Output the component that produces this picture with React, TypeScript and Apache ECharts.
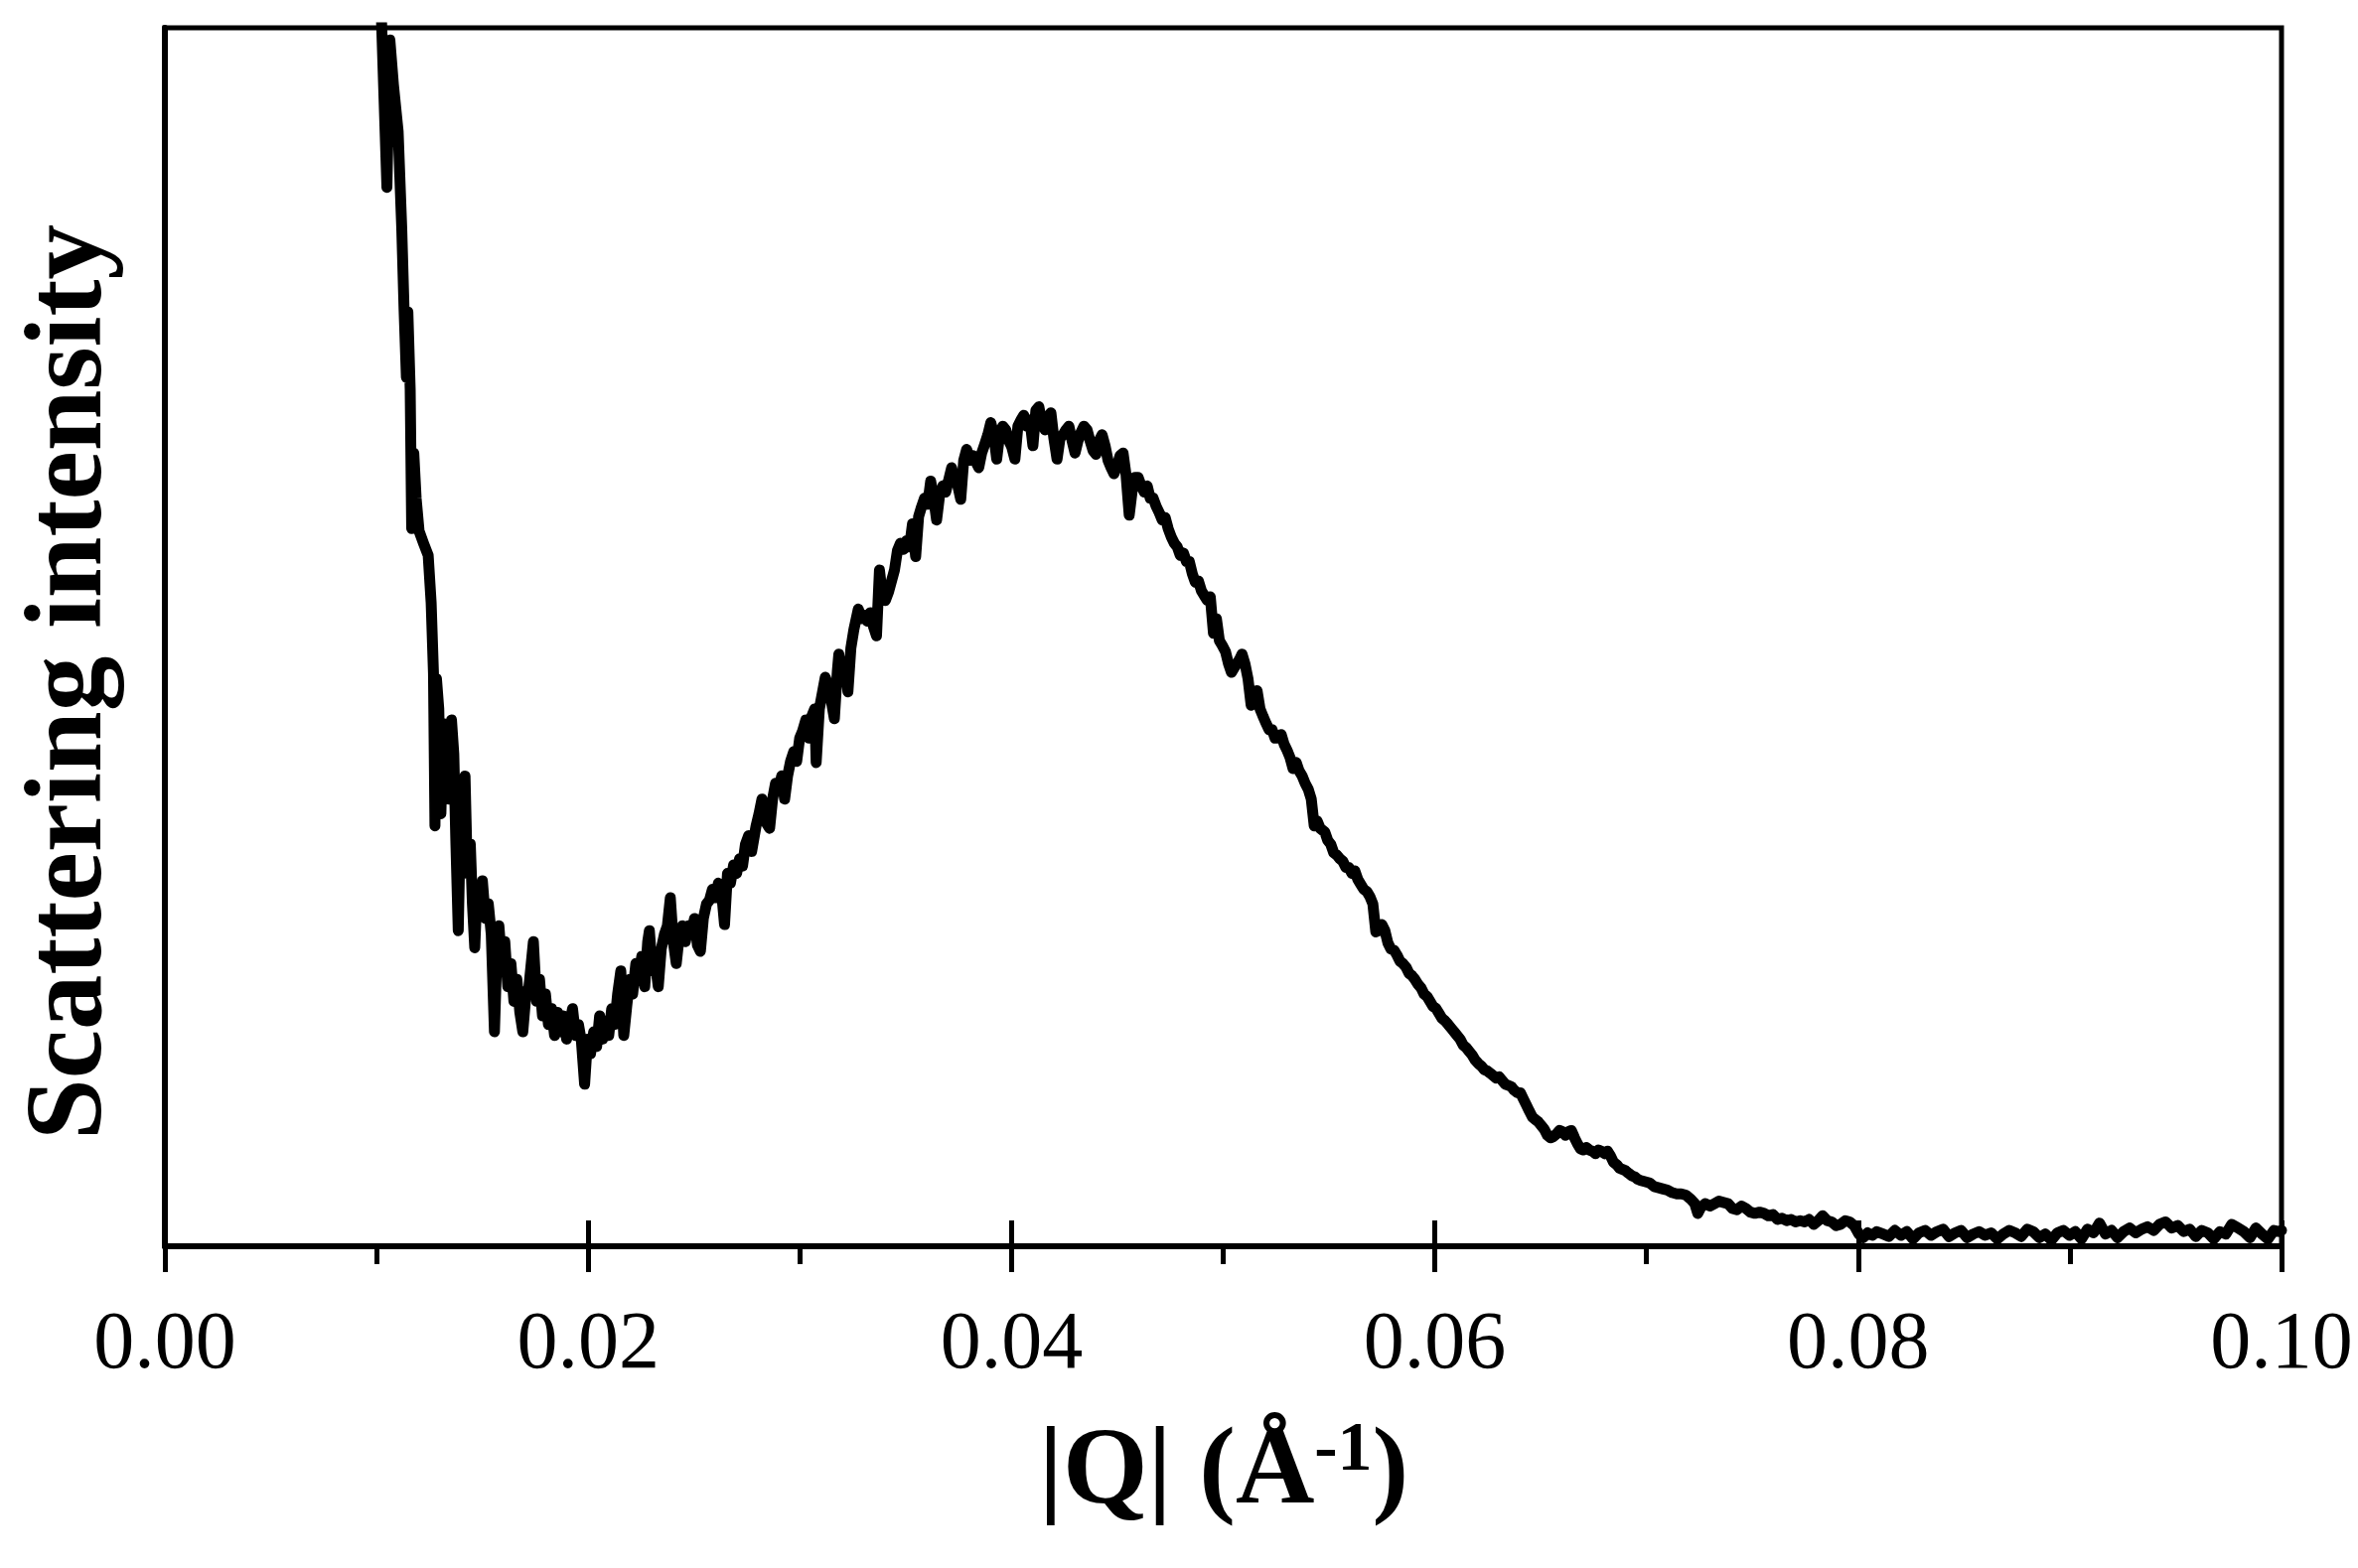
import React, { useEffect, useRef } from "react";
import * as echarts from "echarts";

// |Q| (1/Å) vs scattering intensity (arbitrary units, 0 = baseline, 100 = top of frame)
const lowQMinimum: [number, number][] = [
  [0.01016, 104.6], [0.01049, 86.9], [0.01063, 99.0], [0.0108, 95.3], [0.01102, 91.5],
  [0.01119, 83.6], [0.0113, 76.9], [0.01141, 71.3], [0.01148, 76.7], [0.01159, 70.3],
  [0.01166, 58.9], [0.01176, 65.1], [0.01187, 61.4], [0.01201, 58.7], [0.01222, 57.7],
  [0.01244, 56.7], [0.01258, 52.8], [0.01269, 47.0], [0.01276, 34.5], [0.01283, 46.6],
  [0.01294, 44.1], [0.01304, 35.5], [0.01315, 42.9], [0.01329, 39.2], [0.01343, 36.7],
  [0.01354, 43.2], [0.01365, 40.4], [0.01375, 33.0], [0.01386, 25.9], [0.01397, 35.5],
  [0.01407, 33.0], [0.01418, 38.6], [0.01429, 30.6], [0.01443, 33.0], [0.01453, 28.1],
  [0.01464, 24.5], [0.01475, 29.3], [0.01485, 28.1], [0.015, 30.0], [0.01514, 26.9],
  [0.01528, 28.1], [0.01542, 25.6], [0.01557, 17.6], [0.01567, 23.2], [0.01578, 26.3],
  [0.01592, 23.2], [0.01606, 25.0], [0.0162, 21.3], [0.01635, 23.2], [0.01649, 20.1],
  [0.01663, 21.9], [0.01677, 19.2], [0.01691, 17.6], [0.01706, 20.7], [0.0172, 21.3],
  [0.01741, 25.0], [0.01756, 20.1], [0.0177, 21.9], [0.01784, 18.9], [0.01798, 20.7],
  [0.01812, 18.2], [0.01827, 19.5], [0.01841, 17.3], [0.01855, 19.2], [0.01869, 17.6],
  [0.01883, 18.9], [0.01898, 17.0], [0.01912, 18.2], [0.01926, 19.5], [0.0194, 17.3],
  [0.01954, 18.2], [0.01968, 16.8], [0.01983, 13.3], [0.01997, 17.0], [0.02011, 15.8],
  [0.02026, 17.6], [0.0204, 16.4], [0.02054, 18.9],
];

const risingFlank: [number, number][] = [
  [0.02068, 17.0], [0.02082, 18.5], [0.02097, 17.3], [0.02111, 19.5], [0.02125, 18.2],
  [0.02139, 20.7], [0.02154, 22.6], [0.02168, 17.3], [0.02182, 19.7], [0.02196, 21.9],
  [0.0221, 20.7], [0.02225, 23.2], [0.02239, 21.9], [0.02253, 23.8], [0.02267, 21.3],
  [0.02281, 25.0], [0.02289, 25.9], [0.02303, 22.6], [0.02317, 23.2], [0.02331, 21.3],
  [0.02345, 24.4], [0.0236, 25.6], [0.02374, 26.3], [0.02388, 28.6], [0.02402, 25.0],
  [0.02416, 23.2], [0.02431, 25.6], [0.02445, 26.3], [0.02459, 25.0], [0.02473, 26.3],
  [0.02488, 25.6], [0.02502, 26.9], [0.02516, 24.7], [0.0253, 24.2], [0.02544, 26.9],
  [0.02559, 28.1], [0.02573, 28.4], [0.02587, 29.3], [0.02601, 28.6], [0.02615, 29.8],
  [0.0263, 29.1], [0.02644, 26.4], [0.02658, 30.6], [0.02672, 29.8], [0.02687, 31.3],
  [0.02701, 30.6], [0.02715, 31.8], [0.02729, 31.2], [0.02743, 33.0], [0.02758, 33.7],
  [0.02772, 32.4], [0.02793, 34.5], [0.02807, 35.5], [0.02821, 36.7], [0.02836, 34.9],
  [0.02857, 34.3], [0.02871, 36.7], [0.02885, 38.0], [0.02899, 37.4], [0.02914, 38.6],
  [0.02928, 36.7], [0.02942, 38.6], [0.02956, 39.8], [0.02971, 40.6], [0.02985, 39.8],
  [0.02999, 41.7], [0.03013, 42.3], [0.03028, 43.2], [0.03042, 41.7], [0.03056, 43.5],
  [0.0307, 44.1], [0.03077, 39.7], [0.03092, 44.1], [0.03106, 45.4], [0.0312, 46.7],
  [0.03134, 46.0], [0.03148, 44.8], [0.03163, 43.3], [0.03177, 47.2], [0.03184, 48.6],
  [0.03198, 47.2], [0.03212, 47.8], [0.03227, 45.5], [0.03241, 49.1], [0.03255, 50.6],
  [0.03276, 52.3], [0.0329, 51.5], [0.03305, 51.8], [0.03319, 51.3], [0.03333, 52.0],
  [0.03347, 50.9], [0.03362, 50.1], [0.03376, 55.5], [0.0339, 53.4], [0.03404, 53.0],
  [0.03419, 53.7], [0.03433, 54.6], [0.03447, 55.5], [0.03461, 57.1], [0.03475, 57.7],
  [0.0349, 57.2], [0.03504, 57.9], [0.03518, 57.4], [0.03532, 59.3], [0.03547, 56.6],
  [0.03561, 59.9], [0.03575, 60.7], [0.03589, 61.4], [0.03604, 60.9], [0.03618, 62.8],
  [0.03632, 61.4], [0.03646, 59.6], [0.0366, 61.6], [0.03675, 62.4], [0.03689, 61.9],
  [0.03703, 62.9], [0.03717, 63.9], [0.03731, 62.9], [0.03746, 62.4], [0.0376, 61.3],
  [0.03774, 64.5], [0.03788, 65.4], [0.03802, 64.5], [0.03817, 64.9], [0.03831, 64.4],
  [0.03845, 63.9], [0.03859, 65.1], [0.03873, 65.8], [0.03888, 66.6], [0.03902, 67.6],
  [0.03916, 66.6], [0.0393, 64.6], [0.03945, 66.8], [0.03959, 67.3], [0.03973, 67.0],
  [0.03987, 66.1],
];

const peakAndDecay: [number, number][] = [
  [0.04001, 65.6], [0.04016, 64.6], [0.0403, 67.3], [0.04044, 67.8], [0.04058, 68.2],
  [0.04072, 67.3], [0.04087, 67.8], [0.04101, 65.7], [0.04115, 68.6], [0.04129, 68.9],
  [0.04143, 67.6], [0.04158, 67.0], [0.04172, 68.1], [0.04186, 68.4], [0.042, 66.3],
  [0.04215, 64.6], [0.04229, 66.3], [0.04243, 66.6], [0.04257, 67.0], [0.04271, 67.3],
  [0.04286, 66.1], [0.043, 65.1], [0.04314, 66.1], [0.04328, 66.8], [0.04342, 67.3],
  [0.04357, 67.0], [0.04371, 66.1], [0.04385, 65.3], [0.04399, 65.0], [0.04413, 66.1],
  [0.04428, 66.6], [0.04442, 65.7], [0.04456, 64.5], [0.0447, 63.9], [0.04484, 63.4],
  [0.04499, 64.1], [0.04513, 64.9], [0.04527, 65.1], [0.04541, 63.3], [0.04556, 60.0],
  [0.0457, 62.0], [0.04584, 63.1], [0.04598, 63.1], [0.04613, 62.4], [0.04627, 61.9],
  [0.04641, 62.4], [0.04655, 61.4], [0.04669, 61.4], [0.04684, 60.7], [0.04698, 60.2],
  [0.04712, 59.6], [0.04726, 59.8], [0.0474, 58.9], [0.04755, 58.2], [0.04769, 57.7],
  [0.04783, 57.4], [0.04797, 56.7], [0.04812, 56.9], [0.04826, 56.2], [0.0484, 56.2],
  [0.04854, 55.2], [0.04868, 54.5], [0.04883, 54.6], [0.04897, 53.8], [0.04911, 53.4],
  [0.04925, 53.0], [0.04939, 53.3], [0.04954, 50.3], [0.04968, 51.5], [0.04982, 49.7],
  [0.04996, 49.3], [0.05011, 48.8], [0.05025, 47.8], [0.05039, 47.1], [0.05053, 47.5],
  [0.05075, 48.1], [0.05089, 48.6], [0.05103, 47.8], [0.05117, 46.6], [0.05132, 44.4],
  [0.05146, 45.1], [0.0516, 45.6], [0.05174, 44.1], [0.05188, 43.5], [0.05203, 42.9],
  [0.05217, 42.4], [0.05231, 42.4], [0.05245, 41.7], [0.05259, 41.7], [0.05274, 42.0],
  [0.05288, 41.2], [0.05302, 40.7], [0.05316, 40.1], [0.0533, 39.2], [0.05345, 39.7],
  [0.05359, 39.0], [0.05373, 38.6], [0.05387, 38.0], [0.05402, 37.5], [0.05416, 36.7],
  [0.0543, 34.5], [0.05444, 34.9], [0.05458, 34.3], [0.0548, 34.0], [0.05494, 33.3],
  [0.05508, 33.0], [0.05522, 32.3], [0.05537, 32.1], [0.05551, 31.8], [0.05565, 31.6],
  [0.05579, 31.1], [0.05593, 31.1], [0.05608, 30.6], [0.05622, 30.8], [0.05636, 30.1],
  [0.0565, 29.7], [0.05664, 29.3], [0.05679, 29.1], [0.05693, 28.7], [0.05707, 28.1],
  [0.05721, 25.8], [0.05736, 25.9], [0.0575, 26.4], [0.05764, 25.9], [0.05778, 24.9],
  [0.05792, 24.4], [0.05807, 24.3], [0.05821, 23.9], [0.05835, 23.4], [0.05849, 23.2],
  [0.05864, 22.9], [0.05878, 22.4], [0.05892, 22.2], [0.05906, 21.9], [0.0592, 21.5],
  [0.05935, 21.2], [0.05949, 20.7], [0.05963, 20.5], [0.05977, 20.1], [0.05991, 19.7],
  [0.06006, 19.5], [0.0602, 19.1], [0.06034, 18.7], [0.06048, 18.5], [0.06063, 18.2],
  [0.06077, 17.9], [0.06091, 17.6], [0.06105, 17.3], [0.06119, 17.0], [0.06134, 16.5],
  [0.06148, 16.3], [0.06162, 16.0], [0.06176, 15.7], [0.0619, 15.3], [0.06205, 15.0],
  [0.06219, 14.8], [0.06233, 14.5], [0.06247, 14.4], [0.06262, 14.2], [0.06276, 14.0],
  [0.0629, 13.8], [0.06304, 13.9], [0.06318, 13.6], [0.06333, 13.3], [0.06347, 13.2],
  [0.06361, 13.1], [0.06375, 12.8], [0.0639, 12.6], [0.06404, 12.6], [0.06418, 12.1],
  [0.06432, 11.6], [0.06446, 11.1], [0.06461, 10.6], [0.06475, 10.4], [0.06489, 10.2],
  [0.06503, 9.9], [0.06517, 9.6], [0.06532, 9.1], [0.06546, 8.9], [0.0656, 9.0],
  [0.06574, 9.2], [0.06589, 9.5], [0.06603, 9.4], [0.06617, 9.1], [0.06631, 9.4],
  [0.06645, 9.5], [0.0666, 8.9], [0.06674, 8.4], [0.06688, 8.0], [0.06702, 7.9],
  [0.06716, 8.1], [0.06731, 7.9], [0.06745, 7.8], [0.06759, 7.6], [0.06773, 7.9],
  [0.06787, 7.8], [0.06802, 7.6], [0.06816, 7.8], [0.0683, 7.4], [0.06844, 6.9],
  [0.06859, 6.7], [0.06873, 6.4], [0.06887, 6.3], [0.06901, 6.2], [0.06915, 6.0],
  [0.0693, 5.8], [0.06944, 5.7], [0.06958, 5.5], [0.06972, 5.4],
];

const highQTail: [number, number][] = [
  [0.06994, 5.3], [0.07015, 5.2], [0.07036, 4.9], [0.07058, 4.8], [0.07079, 4.7],
  [0.071, 4.6], [0.07122, 4.4], [0.07143, 4.3], [0.07164, 4.3], [0.07186, 4.2],
  [0.07207, 3.9], [0.07228, 3.5], [0.07242, 2.7], [0.07257, 3.2], [0.07278, 3.5],
  [0.07299, 3.3], [0.07321, 3.5], [0.07342, 3.7], [0.07363, 3.6], [0.07385, 3.5],
  [0.07406, 3.1], [0.07427, 3.0], [0.07449, 3.3], [0.0747, 3.1], [0.07491, 2.8],
  [0.07512, 2.7], [0.07534, 2.8], [0.07555, 2.7], [0.07576, 2.5], [0.07598, 2.6],
  [0.07619, 2.2], [0.0764, 2.3], [0.07662, 2.1], [0.07683, 2.2], [0.07704, 2.0],
  [0.07726, 2.1], [0.07747, 2.0], [0.07768, 2.2], [0.0779, 1.8], [0.07811, 2.1],
  [0.07832, 2.5], [0.07854, 2.1], [0.07875, 2.0], [0.07896, 1.7], [0.07917, 1.8],
  [0.07939, 2.1], [0.0796, 2.0], [0.07981, 1.7], [0.08003, 1.0], [0.08024, 0.7],
  [0.08045, 1.1], [0.08067, 0.9], [0.08088, 1.2], [0.08117, 1.0], [0.08145, 0.8],
  [0.08173, 1.3], [0.08202, 0.9], [0.0823, 1.2], [0.08259, 0.6], [0.08287, 1.1],
  [0.08316, 1.3], [0.08344, 0.9], [0.08372, 1.2], [0.08401, 1.4], [0.08429, 0.8],
  [0.08458, 1.1], [0.08486, 1.3], [0.08515, 0.7], [0.08543, 1.0], [0.08571, 1.2],
  [0.086, 0.9], [0.08628, 1.1], [0.08657, 0.6], [0.08685, 1.0], [0.08714, 1.3],
  [0.08742, 1.1], [0.0877, 0.8], [0.08799, 1.4], [0.08827, 1.2], [0.08856, 0.7],
  [0.08884, 1.0], [0.08913, 0.5], [0.08941, 1.1], [0.08969, 1.3], [0.08998, 0.9],
  [0.09026, 1.2], [0.09055, 0.6], [0.09083, 1.4], [0.09112, 1.1], [0.0914, 1.9],
  [0.09168, 1.0], [0.09197, 1.3], [0.09225, 0.7], [0.09254, 1.2], [0.09282, 1.5],
  [0.09311, 1.1], [0.09339, 1.4], [0.09367, 1.6], [0.09396, 1.3], [0.09424, 1.8],
  [0.09453, 2.0], [0.09481, 1.5], [0.0951, 1.7], [0.09538, 1.2], [0.09566, 1.4],
  [0.09595, 0.8], [0.09623, 1.3], [0.09652, 1.1], [0.0968, 0.6], [0.09709, 1.2],
  [0.09737, 1.0], [0.09765, 1.8], [0.09794, 1.5], [0.09822, 1.2], [0.09851, 0.7],
  [0.09879, 1.5], [0.09908, 1.0], [0.09936, 0.6], [0.09964, 1.3], [0.09993, 1.2],
  [0.1, 1.3],
];

const xTickValues = [0, 0.02, 0.04, 0.06, 0.08, 0.1];
const xAxisTitle = "|Q| (Å";
const xAxisTitleSup = "-1";
const yAxisTitle = "Scattering intensity";

const SERIF = '"Liberation Serif", "Times New Roman", serif';

export default function App() {
  const ref = useRef<HTMLDivElement>(null);

  useEffect(() => {
    if (!ref.current) return;
    const chart = echarts.init(ref.current, undefined, { renderer: "svg" });
    const curve = [...lowQMinimum, ...risingFlank, ...peakAndDecay, ...highQTail];
    const tickMin = xTickValues[0];
    const tickMax = xTickValues[xTickValues.length - 1];
    const tickStep = xTickValues[1] - xTickValues[0];

    const tickStyle = { color: "#000", width: 5 };

    chart.setOption({
      animation: false,
      backgroundColor: "#fff",
      grid: {
        show: true,
        left: 166,
        right: 77,
        top: 28,
        bottom: 324,
        borderColor: "#000",
        borderWidth: 5,
        backgroundColor: "transparent",
        containLabel: false,
      },
      xAxis: [
        {
          type: "value",
          position: "bottom",
          min: tickMin,
          max: tickMax,
          interval: tickStep,
          axisLine: { show: true, onZero: false, lineStyle: { color: "#000", width: 6 } },
          axisTick: { show: true, inside: false, length: 26, lineStyle: tickStyle },
          minorTick: { show: true, splitNumber: 2, length: 18, lineStyle: tickStyle },
          splitLine: { show: false },
          axisLabel: {
            show: true,
            margin: 53,
            color: "#000",
            fontFamily: SERIF,
            fontSize: 82,
            formatter: (v: number) => v.toFixed(2),
          },
        },
        {
          type: "value",
          position: "bottom",
          min: tickMin,
          max: tickMax,
          interval: tickStep,
          axisLine: { show: false, onZero: false },
          axisTick: { show: true, inside: true, length: 26, lineStyle: tickStyle },
          splitLine: { show: false },
          axisLabel: { show: false },
        },
      ],
      yAxis: {
        type: "value",
        min: 0,
        max: 100,
        axisLine: { show: true, onZero: false, lineStyle: { color: "#000", width: 6 } },
        axisTick: { show: false },
        axisLabel: { show: false },
        splitLine: { show: false },
      },
      series: [
        {
          type: "line",
          xAxisIndex: 0,
          yAxisIndex: 0,
          data: curve,
          showSymbol: false,
          symbol: "none",
          clip: true,
          lineStyle: { color: "#000", width: 11, cap: "round", join: "round" },
          z: 3,
        },
      ],
      graphic: [
        {
          type: "text",
          x: 63,
          y: 687,
          rotation: Math.PI / 2,
          style: {
            text: yAxisTitle,
            fill: "#000",
            fontFamily: SERIF,
            fontWeight: "bold",
            fontSize: 111,
            align: "center",
            verticalAlign: "middle",
          },
        },
        {
          type: "text",
          x: 1232,
          y: 1476,
          style: {
            text: `{b|${xAxisTitle}}{sup|${xAxisTitleSup}}{b|)}`,
            fill: "#000",
            align: "center",
            verticalAlign: "middle",
            rich: {
              b: {
                fontFamily: SERIF,
                fontWeight: "bold",
                fontSize: 110,
                lineHeight: 110,
                fill: "#000",
                verticalAlign: "middle",
              },
              sup: {
                fontFamily: SERIF,
                fontWeight: "bold",
                fontSize: 70,
                lineHeight: 70,
                fill: "#000",
                verticalAlign: "top",
              },
            },
          },
        },
      ],
    });

    return () => chart.dispose();
  }, []);

  return (
    <div
      ref={ref}
      style={{ position: "absolute", left: 0, top: 0, width: 2374, height: 1579, background: "#fff" }}
    />
  );
}
